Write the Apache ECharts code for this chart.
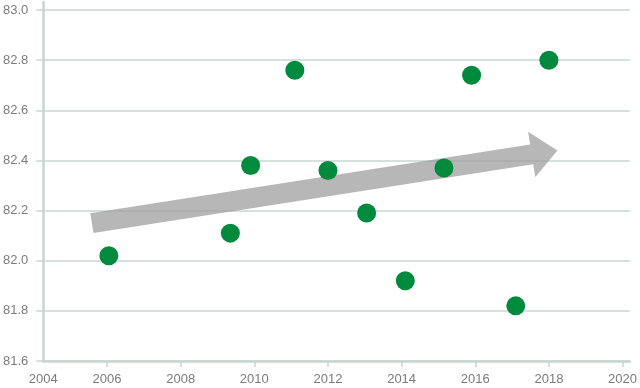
<!DOCTYPE html>
<html>
<head>
<meta charset="utf-8">
<script src="https://cdn.jsdelivr.net/npm/echarts@6/dist/echarts.min.js"></script>
<style>html,body{margin:0;padding:0;background:#fff}#c{width:640px;height:388px}</style>
</head>
<body>
<div id="c"></div>
<script>
// Data
const years  = [2006.05, 2009.35, 2009.9, 2011.1, 2012.0, 2013.05, 2014.1, 2015.15, 2015.9, 2017.1, 2018.0];
const values = [82.02, 82.11, 82.38, 82.76, 82.36, 82.19, 81.92, 82.37, 82.74, 81.82, 82.80];
const xTickLabels = [2004.27, 2006, 2008, 2010, 2012, 2014, 2016, 2018, 2020];
const yTickLabels = [81.6, 81.8, 82.0, 82.2, 82.4, 82.6, 82.8, 83.0];
// Trend arrow start / end (data coords)
const arrowFrom = [2005.59, 82.15];
const arrowTo   = [2018.23, 82.44];

const AXIS = '#c9d6d0';
const LABEL = '#7b7b7b';
const FONT = '"Liberation Sans Narrow", "Liberation Sans", sans-serif';
const chart = echarts.init(document.getElementById('c'), null, {renderer: 'canvas'});

chart.setOption({
  animation: false,
  backgroundColor: '#fff',
  grid: {left: 41, right: 9, top: 2, bottom: 27, containLabel: false},
  xAxis: {
    type: 'value',
    min: xTickLabels[0],
    max: 2020.2,
    axisLine: {show: true, onZero: false, lineStyle: {color: AXIS, width: 2.5}},
    axisTick: {show: true, length: 6, customValues: xTickLabels.slice(1), lineStyle: {color: AXIS, width: 1.5}},
    axisLabel: {
      customValues: xTickLabels,
      formatter: v => String(Math.round(v)),
      color: LABEL, fontSize: 13, fontFamily: FONT, margin: 12
    },
    splitLine: {show: false}
  },
  yAxis: {
    type: 'value',
    min: yTickLabels[0], max: 83.032,
    axisLine: {show: true, lineStyle: {color: AXIS, width: 2.5}},
    axisTick: {show: true, length: 7, customValues: yTickLabels, lineStyle: {color: AXIS, width: 1.5}},
    axisLabel: {
      customValues: yTickLabels,
      formatter: v => v.toFixed(1),
      color: LABEL, fontSize: 13, fontFamily: FONT, margin: 15
    },
    splitLine: {show: true, lineStyle: {color: AXIS, width: 1.5}}
  },
  series: [
    {
      type: 'custom',
      z: 3,
      renderItem: function (params, api) {
        const p0 = api.coord(arrowFrom);
        const p1 = api.coord(arrowTo);
        const dx = p1[0] - p0[0], dy = p1[1] - p0[1];
        const len = Math.sqrt(dx * dx + dy * dy);
        const ux = dx / len, uy = dy / len;
        const nx = -uy, ny = ux;
        const hw = 10, headW = 23, headL = 26;
        const bx = p1[0] - ux * headL, by = p1[1] - uy * headL;
        const pts = [
          [p0[0] + nx * hw, p0[1] + ny * hw],
          [bx + nx * hw, by + ny * hw],
          [bx + nx * headW, by + ny * headW],
          [p1[0], p1[1]],
          [bx - nx * headW, by - ny * headW],
          [bx - nx * hw, by - ny * hw],
          [p0[0] - nx * hw, p0[1] - ny * hw]
        ];
        return {
          type: 'polygon',
          shape: {points: pts},
          style: {fill: 'rgba(155,155,155,0.72)'}
        };
      },
      data: [[arrowFrom[0], arrowFrom[1]]],
      silent: true
    },
    {
      type: 'scatter',
      z: 5,
      symbolSize: 19,
      itemStyle: {color: '#008a3e', opacity: 1},
      data: years.map((x, i) => [x, values[i]])
    }
  ]
});
</script>
</body>
</html>
